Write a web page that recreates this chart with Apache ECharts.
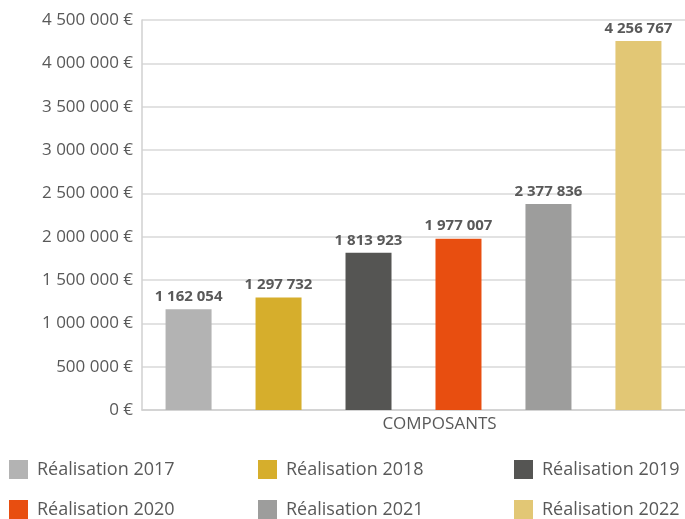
<!DOCTYPE html>
<html><head><meta charset="utf-8">
<script src="https://cdn.jsdelivr.net/npm/echarts@6/dist/echarts.min.js"></script>
<style>html,body{margin:0;padding:0;background:#fff}#c{width:685px;height:519px}</style>
</head><body><div id="c"></div>
<script>
const categories = ['COMPOSANTS'];
const seriesNames = ['Réalisation 2017','Réalisation 2018','Réalisation 2019','Réalisation 2020','Réalisation 2021','Réalisation 2022'];
const values2017 = [1162054];
const values2018 = [1297732];
const values2019 = [1813923];
const values2020 = [1977007];
const values2021 = [2377836];
const values2022 = [4256767];
const allValues = [values2017, values2018, values2019, values2020, values2021, values2022];
const colors = ['#b3b3b3','#d6ae2c','#555553','#e84e10','#9d9d9c','#e2c775'];
const yTicks = {min: 0, max: 4500000, interval: 500000};

const fmt = v => String(v).replace(/\B(?=(\d{3})+(?!\d))/g, ' ');
const font = '"Open Sans", "Noto Sans", sans-serif';

const legendPos = [[9,460],[258,460],[514,460],[9,500],[258,500],[514,500]];
const legends = seriesNames.map((n,i)=>({
  data:[n], left: legendPos[i][0], top: legendPos[i][1], itemWidth:19, itemHeight:19, itemGap:0, padding:0,
  icon:'rect', textStyle:{fontFamily:font, fontSize:18, color:'#595959', padding:[0,0,0,4]}, selectedMode:false
}));

const chart = echarts.init(document.getElementById('c'), null, {renderer:'canvas'});
chart.setOption({
  animation:false,
  color: colors,
  legend: legends,
  grid:{left:142, right:0, top:20, bottom:109},
  xAxis:{type:'category', data:categories,
    axisLine:{lineStyle:{color:'#d0d0d0', width:1.5}}, axisTick:{show:false},
    axisLabel:{fontFamily:font, fontSize:17, color:'#595959', margin:6, padding:[0,0,0,52]}},
  yAxis:{type:'value', min:yTicks.min, max:yTicks.max, interval:yTicks.interval,
    axisLine:{show:true, lineStyle:{color:'#d0d0d0', width:1.5}}, axisTick:{show:false},
    splitLine:{lineStyle:{color:'#d9d9d9', width:1.5}},
    axisLabel:{fontFamily:font, fontSize:17, color:'#595959', margin:9, formatter: v => fmt(v) + ' €'}},
  series: seriesNames.map((n,i)=>({
    name:n, type:'bar', data: allValues[i], barWidth:46, barGap:'95.6%',
    itemStyle:{color:colors[i]},
    label:{show:true, position:'top', distance:5, fontFamily:font, fontWeight:'bold', fontSize:15, color:'#595959', formatter: p => fmt(p.value)}
  }))
});
</script></body></html>
